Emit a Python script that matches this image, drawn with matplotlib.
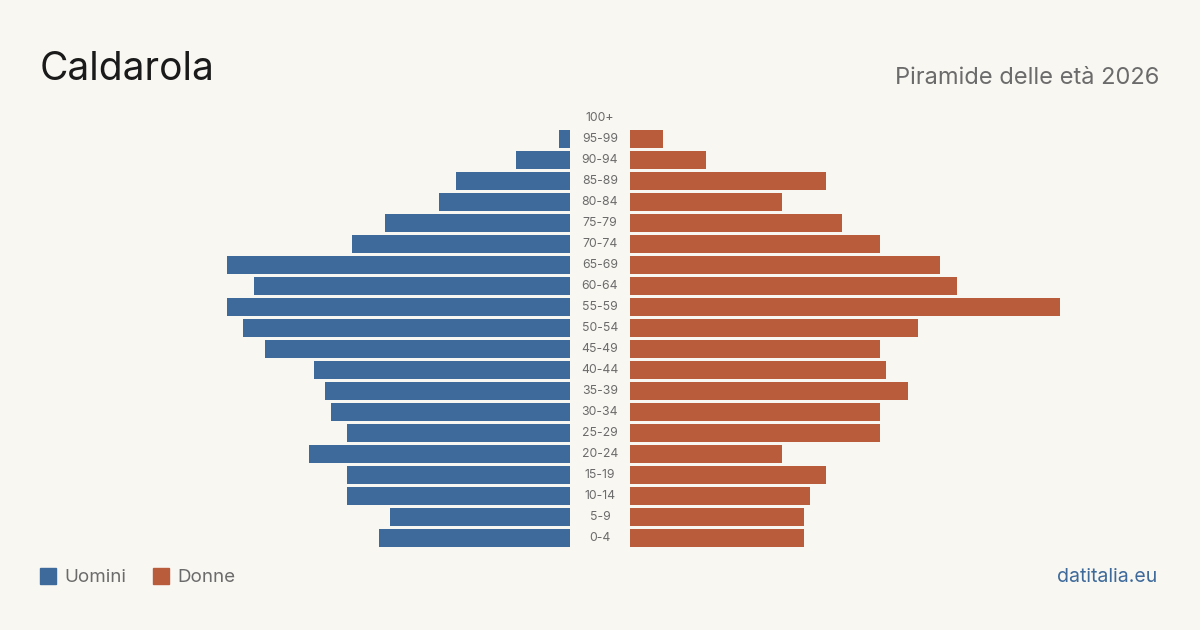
import matplotlib.pyplot as plt
import numpy as np

age_groups = ["0-4", "5-9", "10-14", "15-19", "20-24", "25-29", "30-34", "35-39",
              "40-44", "45-49", "50-54", "55-59", "60-64", "65-69", "70-74",
              "75-79", "80-84", "85-89", "90-94", "95-99", "100+"]
men = [35, 33, 41, 41, 48, 41, 44, 45, 47, 56, 60, 63, 58, 63, 40, 34, 24, 21, 10, 2, 0]
women = [32, 32, 33, 36, 28, 46, 46, 51, 47, 46, 53, 79, 60, 57, 46, 39, 28, 36, 14, 6, 0]

title = "Caldarola"
subtitle = "Piramide delle età 2026"
legend_labels = ["Uomini", "Donne"]
source = "datitalia.eu"

BG = "#f9f7f2"
BLUE = "#3d6a9b"
ORANGE = "#b85c3b"
GREY = "#6b6b6b"
FONT = ["Inter", "DejaVu Sans"]

W, H = 1200, 630
fig = plt.figure(figsize=(W / 100, H / 100), dpi=100, facecolor=BG)

xmax = 79
top_px, bot_px = 107.5, 548.5
y0 = 1 - bot_px / H
hh = (bot_px - top_px) / H
axL = fig.add_axes([140 / W, y0, 430 / W, hh])
axR = fig.add_axes([630 / W, y0, 430 / W, hh])

y = np.arange(len(age_groups))
for ax in (axL, axR):
    ax.set_facecolor("none")
    ax.set_ylim(-0.5, len(age_groups) - 0.5)
    ax.set_xlim(0, xmax)
    ax.axis("off")

axL.barh(y, men, height=0.81, color=BLUE)
axL.invert_xaxis()
axR.barh(y, women, height=0.81, color=ORANGE)

for i, lab in enumerate(age_groups):
    axR.text(-30 / 430 * xmax, i, lab, ha="center", va="center", fontsize=8.8,
             color=GREY, family=FONT, transform=axR.transData, clip_on=False)

fig.text(40 / W, 1 - 80 / H, title, fontsize=28, color="#1a1a1a", family=FONT,
         ha="left", va="baseline")
fig.text(1159 / W, 1 - 84 / H, subtitle, fontsize=17, color=GREY, family=FONT,
         ha="right", va="baseline")

for x_sq, x_txt, col, lab in [(40, 64, BLUE, legend_labels[0]), (153, 177, ORANGE, legend_labels[1])]:
    fig.patches.append(plt.Rectangle((x_sq / W, 1 - 584 / H), 16 / W, 16 / H,
                                     transform=fig.transFigure, color=col))
    fig.text(x_txt / W, 1 - 582.5 / H, lab, fontsize=13.5, color=GREY, family=FONT,
             ha="left", va="baseline")

fig.text(1157 / W, 1 - 582.5 / H, source, fontsize=14, color=BLUE, family=FONT,
         ha="right", va="baseline")

fig.savefig("out.png", dpi=100, facecolor=BG)
